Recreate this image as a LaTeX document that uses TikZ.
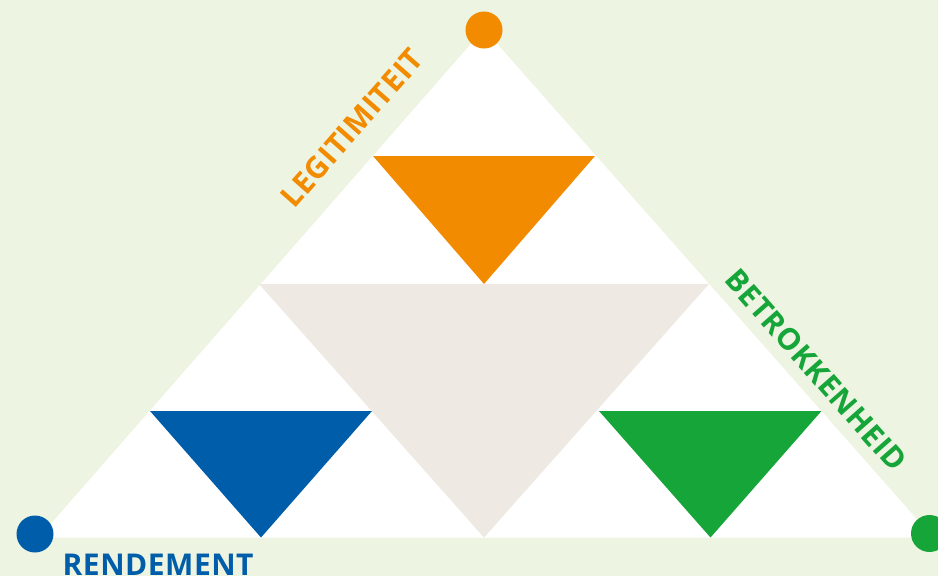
\documentclass[tikz,border=0pt]{standalone}
\usepackage{fontspec}
\setmainfont{Open Sans}[LetterSpace=1.7]
\definecolor{bgc}{HTML}{EEF4E2}
\definecolor{orc}{HTML}{F28B00}
\definecolor{blc}{HTML}{005DA9}
\definecolor{grc}{HTML}{15A538}
\definecolor{bec}{HTML}{EEEAE3}
\tikzset{
  lbl/.style={inner sep=0pt, font=\fontsize{30}{36}\selectfont\bfseries},
  dot/.style={circle, inner sep=0pt, minimum size=37pt}
}
\begin{document}
\begin{tikzpicture}[x=1pt,y=-1pt]
\useasboundingbox (0,0) rectangle (938,576);
\clip (0,0) rectangle (938,576);
\fill[bgc] (0,0) rectangle (938,576);
% main triangle
\coordinate (A) at (484,29);
\coordinate (B) at (39,537.5);
\coordinate (C) at (933,537.5);
\fill[white] (A) -- (B) -- (C) -- cycle;
% inner triangles
\fill[bec] (259,284) -- (709,284) -- (484,537.5) -- cycle;
\fill[orc] (373,156) -- (595,156) -- (484,284) -- cycle;
\fill[blc] (150,411) -- (372,411) -- (261,537.5) -- cycle;
\fill[grc] (599,411) -- (821.5,411) -- (710.5,537.5) -- cycle;
% corner dots
\node[dot, fill=orc] (dA) at (484,30) {};
\node[dot, fill=blc] (dB) at (35,534) {};
\node[dot, fill=grc] (dC) at (929.5,533.5) {};
% labels
\node[lbl, text=orc, rotate=48.65] (legit) at (352,128) {LEGITIMITEIT};
\node[lbl, text=grc, rotate=-48.65] (betr) at (816,370) {BETROKKENHEID};
\node[lbl, text=blc, anchor=north west] (rend) at (62.5,554) {RENDEMENT};
\end{tikzpicture}
\end{document}
